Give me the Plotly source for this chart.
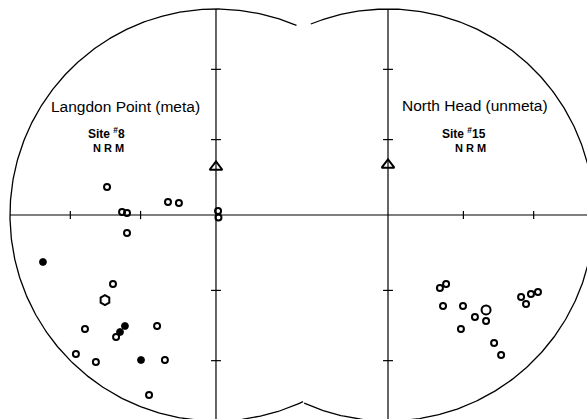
import numpy as np
import plotly.graph_objects as go

# Equal-area net coordinates (unit radius): east, north components
# Langdon Point (meta), Site #8, NRM
lp_open_e = [-0.529, -0.233, -0.180, -0.456, -0.432, 0.010, 0.012, -0.432,
             -0.500, -0.636, -0.485, -0.286, -0.680, -0.583, -0.248, -0.325]
lp_open_n = [0.136, 0.063, 0.058, 0.015, 0.010, 0.019, -0.012, -0.087,
             -0.335, -0.553, -0.592, -0.539, -0.675, -0.714, -0.704, -0.874]
lp_fill_e = [-0.840, -0.442, -0.466, -0.364]
lp_fill_n = [-0.228, -0.539, -0.568, -0.704]
lp_mean_e = [-0.539]
lp_mean_n = [-0.413]
lp_ref_e = [0.0]
lp_ref_n = [0.233]

# North Head (unmeta), Site #15, NRM
nh_open_e = [0.252, 0.282, 0.267, 0.364, 0.422, 0.476, 0.354, 0.515, 0.549,
             0.646, 0.670, 0.694, 0.728]
nh_open_n = [-0.354, -0.335, -0.442, -0.442, -0.495, -0.515, -0.553, -0.621,
             -0.680, -0.398, -0.432, -0.383, -0.374]
nh_mean_e = [0.476]
nh_mean_n = [-0.461]
nh_ref_e = [0.0]
nh_ref_n = [0.243]

# Inclinations marked by ticks on the axes
tick_incl = [60, 30]

# Net layout
SEP = 0.835          # offset of the second net's centre
W, H = 587, 419
X_RANGE = [-1.0485, 1.8010]
Y_RANGE = [-0.9903, 1.0437]
INK = "black"

fig = go.Figure()

# Net outlines: two overlapping primitives, only the outer arcs drawn
t_left = np.radians(np.linspace(67, 295, 400))
t_right = np.radians(np.linspace(-114, 112, 400))
fig.add_trace(go.Scatter(x=np.cos(t_left), y=np.sin(t_left), mode="lines",
                         line=dict(color=INK, width=1.3), hoverinfo="skip"))
fig.add_trace(go.Scatter(x=SEP + np.cos(t_right), y=np.sin(t_right), mode="lines",
                         line=dict(color=INK, width=1.3), hoverinfo="skip"))

shapes = []
line = dict(color=INK, width=1.2)
# Axes of the nets
shapes.append(dict(type="line", x0=-1.0, x1=SEP + 1.02, y0=0, y1=0, line=line))
for cx in (0.0, SEP):
    shapes.append(dict(type="line", x0=cx, x1=cx, y0=-1.05, y1=1.0, line=line))

# Inclination ticks (equal-area radius)
radii = [np.sqrt(2) * np.sin(np.radians((90 - i) / 2)) for i in tick_incl]
for cx in (0.0, SEP):
    for r in radii:
        for s in (1, -1):
            shapes.append(dict(type="line", x0=cx - 0.024, x1=cx + 0.024,
                               y0=s * r, y1=s * r, line=line))
for r in radii:
    shapes.append(dict(type="line", x0=-r, x1=-r, y0=-0.02, y1=0.02, line=line))
    shapes.append(dict(type="line", x0=SEP + r, x1=SEP + r, y0=-0.02, y1=0.02, line=line))


def pts(e, n, dx, symbol, size, width=2.0):
    fig.add_trace(go.Scatter(
        x=[v + dx for v in e], y=n, mode="markers",
        marker=dict(symbol=symbol, size=size, color=INK,
                    line=dict(color=INK, width=width)),
        hoverinfo="skip"))


pts(lp_open_e, lp_open_n, 0.0, "circle-open", 6)
pts(lp_fill_e, lp_fill_n, 0.0, "circle", 7, 0.8)
pts(lp_mean_e, lp_mean_n, 0.0, "hexagon-open", 10)
pts(lp_ref_e, lp_ref_n, 0.0, "triangle-up-open", 11)
pts(nh_open_e, nh_open_n, SEP, "circle-open", 6)
pts(nh_mean_e, nh_mean_n, SEP, "circle-open", 9)
pts(nh_ref_e, nh_ref_n, SEP, "triangle-up-open", 11)

font_title = dict(family="Liberation Sans, Arial, sans-serif", size=15.5, color=INK)
font_small = dict(family="Liberation Sans, Arial, sans-serif", size=12, color=INK)
annotations = [
    dict(x=-0.44, y=0.529, text="Langdon Point (meta)", font=font_title),
    dict(x=-0.53, y=0.398, text="<b>Site <sup>#</sup>8</b>", font=font_small),
    dict(x=-0.52, y=0.325, text="<b>N R M</b>", font=dict(font_small, size=11)),
    dict(x=SEP + 0.42, y=0.534, text="North Head (unmeta)", font=font_title),
    dict(x=SEP + 0.37, y=0.398, text="<b>Site <sup>#</sup>15</b>", font=font_small),
    dict(x=SEP + 0.40, y=0.325, text="<b>N R M</b>", font=dict(font_small, size=11)),
]
for a in annotations:
    a.update(xref="x", yref="y", showarrow=False, xanchor="center", yanchor="middle")

fig.update_layout(
    width=W, height=H, margin=dict(l=0, r=0, t=0, b=0),
    paper_bgcolor="white", plot_bgcolor="white", showlegend=False,
    shapes=shapes, annotations=annotations,
    xaxis=dict(range=X_RANGE, visible=False, fixedrange=True),
    yaxis=dict(range=Y_RANGE, visible=False, fixedrange=True),
)

fig.write_html("out.html")
